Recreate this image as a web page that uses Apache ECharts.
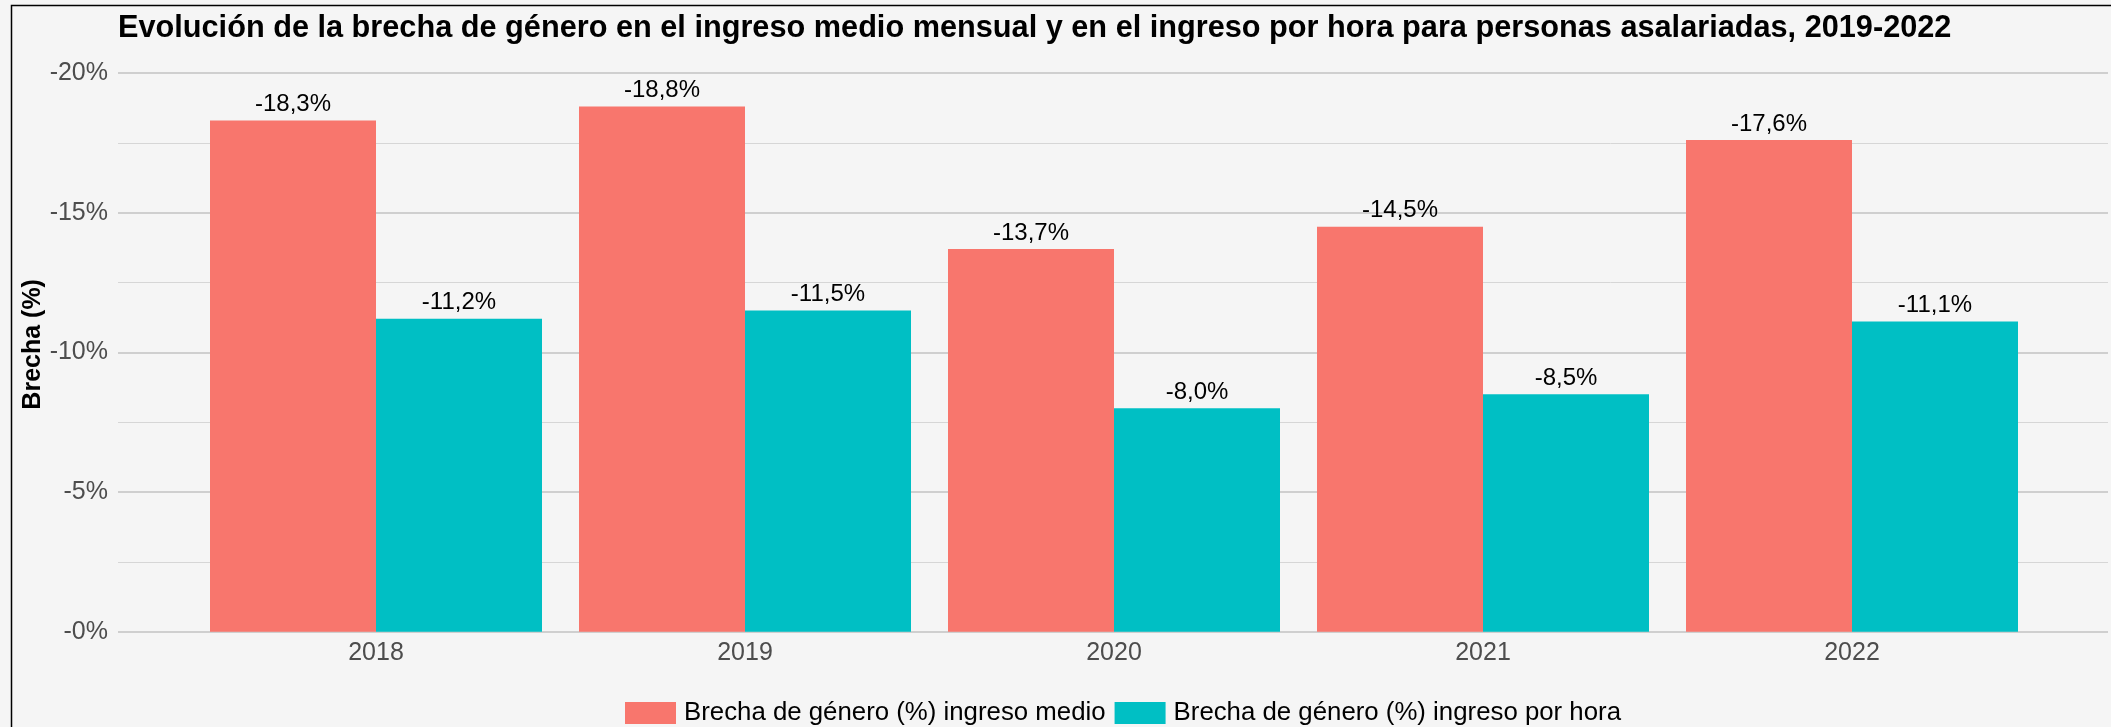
<!DOCTYPE html>
<html>
<head>
<meta charset="utf-8">
<title>Brecha de género</title>
<script src="https://cdn.jsdelivr.net/npm/echarts@6/dist/echarts.min.js"></script>
<style>
  html, body { margin: 0; padding: 0; background: #f5f5f5; }
  #main { width: 2111px; height: 727px; }
</style>
</head>
<body>
<div id="main"></div>
<script>
const years = ['2018', '2019', '2020', '2021', '2022'];
const brechaMedio = [-18.3, -18.8, -13.7, -14.5, -17.6];
const brechaHora = [-11.2, -11.5, -8.0, -8.5, -11.1];
const seriesNames = ['Brecha de género (%) ingreso medio', 'Brecha de género (%) ingreso por hora'];
const yMin = -20, yMax = 0, yStep = 5;

const font = "'Liberation Sans', Arial, sans-serif";
const pct = v => v.toFixed(1).replace('.', ',') + '%';

const chart = echarts.init(document.getElementById('main'));

const barLabel = {
  show: true,
  position: 'top',
  distance: 4,
  fontFamily: font,
  fontSize: 24,
  color: '#000',
  formatter: p => pct(p.value)
};

chart.setOption({
  backgroundColor: '#f5f5f5',
  animation: false,
  textStyle: { fontFamily: font },
  title: {
    text: 'Evolución de la brecha de género en el ingreso medio mensual y en el ingreso por hora para personas asalariadas, 2019-2022',
    left: 113,
    top: 8,
    textStyle: { fontFamily: font, fontSize: 30.7, fontWeight: 'bold', color: '#000' }
  },
  graphic: [{
    type: 'rect',
    silent: true,
    shape: { x: 11.5, y: 5.5, width: 2200, height: 800 },
    style: { fill: null, stroke: '#000', lineWidth: 1.5 }
  }],
  legend: {
    left: 620,
    top: 695,
    icon: 'rect',
    itemWidth: 51,
    itemHeight: 22,
    itemGap: 9,
    textStyle: { fontFamily: font, fontSize: 25.8, color: '#000', padding: [0, 0, 0, 3] },
    data: seriesNames
  },
  grid: [
    { left: 191.5, right: 74.5, top: 73, bottom: 95.3 },
    { left: 118, right: 3, top: 73, bottom: 95.3 }
  ],
  xAxis: [
    {
      type: 'category',
      gridIndex: 0,
      data: years,
      axisLine: { show: false },
      axisTick: { show: false },
      axisLabel: { margin: 9, fontFamily: font, fontSize: 25, color: '#4d4d4d' }
    },
    { type: 'value', gridIndex: 1, min: 0, max: 1, show: false }
  ],
  yAxis: [
    { type: 'value', gridIndex: 0, inverse: true, min: yMin, max: yMax, interval: yStep, show: false },
    {
      type: 'value',
      gridIndex: 1,
      inverse: true,
      min: yMin,
      max: yMax,
      interval: yStep,
      name: 'Brecha (%)',
      nameLocation: 'middle',
      nameRotate: 90,
      nameGap: 72,
      nameMoveOverlap: false,
      nameTextStyle: { fontFamily: font, fontSize: 25, fontWeight: 'bold', color: '#000', padding: [0, 0, 0, 16] },
      axisLine: { show: false },
      axisTick: { show: false },
      axisLabel: {
        margin: 10,
        fontFamily: font,
        fontSize: 25,
        color: '#4d4d4d',
        formatter: v => '-' + Math.abs(v) + '%'
      },
      splitLine: { show: true, lineStyle: { color: '#c2c2c2', width: 1.5 } },
      minorTick: { show: false, splitNumber: 2 },
      minorSplitLine: { show: true, lineStyle: { color: '#d6d6d6', width: 1 } }
    }
  ],
  series: [
    {
      name: seriesNames[0],
      type: 'bar',
      xAxisIndex: 0,
      yAxisIndex: 0,
      data: brechaMedio,
      barWidth: 166,
      barGap: '0%',
      itemStyle: { color: '#F8766D' },
      label: barLabel,
      z: 3
    },
    {
      name: seriesNames[1],
      type: 'bar',
      xAxisIndex: 0,
      yAxisIndex: 0,
      data: brechaHora,
      barWidth: 166,
      barGap: '0%',
      itemStyle: { color: '#00BFC4' },
      label: barLabel,
      z: 3
    }
  ]
});
</script>
</body>
</html>
